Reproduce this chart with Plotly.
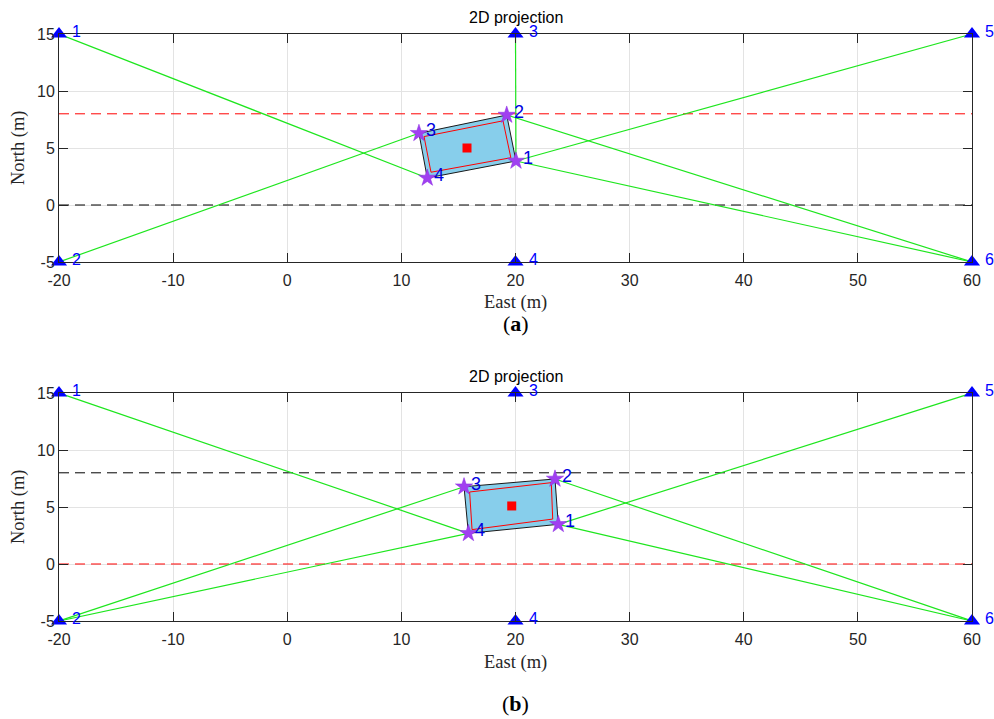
import plotly.graph_objects as go
import math

# ---------------- data ----------------
anchor_x = [-20, -20, 20, 20, 60, 60]
anchor_y = [15, -5, 15, -5, 15, -5]
anchor_labels = ["1", "2", "3", "4", "5", "6"]

vertex_labels = ["1", "2", "3", "4"]

# panel (a)
a_corner_x = [20.04, 19.23, 11.54, 12.27]
a_corner_y = [3.86, 7.89, 6.29, 2.37]
a_center_x = [15.75]
a_center_y = [5.0]
a_link_anchor = [1, 2, 3, 5, 6, 6]
a_link_vertex = [4, 3, 1, 1, 1, 2]
a_lane_y = [8, 0]
a_lane_color = ["red", "black"]

# panel (b)
b_corner_x = [23.75, 23.46, 15.49, 15.87]
b_corner_y = [3.48, 7.46, 6.78, 2.69]
b_center_x = [19.67]
b_center_y = [5.09]
b_link_anchor = [1, 2, 2, 5, 6, 6]
b_link_vertex = [4, 3, 4, 1, 1, 2]
b_lane_y = [8, 0]
b_lane_color = ["black", "red"]

x_ticks = [-20, -10, 0, 10, 20, 30, 40, 50, 60]
x_tick_labels = ["-20", "-10", "0", "10", "20", "30", "40", "50", "60"]
y_ticks = [-5, 0, 5, 10, 15]
y_tick_labels = ["-5", "0", "5", "10", "15"]
x_range = [-20, 60]
y_range = [-5, 15]

inset = 0.4  # inner outline inset (m)

W, H = 994, 719
left_px, right_px = 59, 972
panels_px = [(34, 262), (393, 621)]

GREEN = "#1ee61e"
SANS = "Liberation Sans, Arial, sans-serif"
SERIF = "Liberation Serif, Times New Roman, serif"

fig = go.Figure()


def inner_rect(cx, cy, inset):
    mx = sum(cx) / 4
    my = sum(cy) / 4
    ux, uy = cx[0] - cx[3], cy[0] - cy[3]
    vx, vy = cx[1] - cx[0], cy[1] - cy[0]
    lu = math.hypot(ux, uy)
    lv = math.hypot(vx, vy)
    ux, uy = ux / lu, uy / lu
    vx, vy = vx / lv, vy / lv
    xs, ys = [], []
    for px, py in zip(cx, cy):
        du = (px - mx) * ux + (py - my) * uy
        dv = (px - mx) * vx + (py - my) * vy
        du2 = du - math.copysign(inset, du)
        dv2 = dv - math.copysign(inset, dv)
        xs.append(mx + du2 * ux + dv2 * vx)
        ys.append(my + du2 * uy + dv2 * vy)
    return xs, ys


def add_panel(idx, cx, cy, ccx, ccy, link_a, link_v, lane_y, lane_col):
    xa = "x" if idx == 0 else "x2"
    ya = "y" if idx == 0 else "y2"
    for ly, lc in zip(lane_y, lane_col):
        fig.add_trace(go.Scatter(x=x_range, y=[ly, ly], mode="lines",
                                 line=dict(color=lc, width=1, dash="10px,6px"),
                                 xaxis=xa, yaxis=ya, showlegend=False,
                                 hoverinfo="skip"))
    for a, v in zip(link_a, link_v):
        fig.add_trace(go.Scatter(x=[anchor_x[a - 1], cx[v - 1]],
                                 y=[anchor_y[a - 1], cy[v - 1]],
                                 mode="lines", line=dict(color=GREEN, width=1.2),
                                 xaxis=xa, yaxis=ya, showlegend=False,
                                 hoverinfo="skip"))
    fig.add_trace(go.Scatter(x=cx + [cx[0]], y=cy + [cy[0]], mode="lines",
                             fill="toself", fillcolor="#87CEEB",
                             line=dict(color="#1a1a1a", width=1),
                             xaxis=xa, yaxis=ya, showlegend=False,
                             hoverinfo="skip"))
    ix, iy = inner_rect(cx, cy, inset)
    fig.add_trace(go.Scatter(x=ix + [ix[0]], y=iy + [iy[0]], mode="lines",
                             line=dict(color="red", width=1),
                             xaxis=xa, yaxis=ya, showlegend=False,
                             hoverinfo="skip"))
    fig.add_trace(go.Scatter(x=ccx, y=ccy, mode="markers",
                             marker=dict(symbol="square", size=9, color="red"),
                             xaxis=xa, yaxis=ya, showlegend=False,
                             hoverinfo="skip"))
    fig.add_trace(go.Scatter(x=cx, y=cy, mode="markers",
                             marker=dict(symbol="star", size=13, color="#A040F0",
                                         line=dict(color="#8a2be2", width=0.5)),
                             cliponaxis=False,
                             xaxis=xa, yaxis=ya, showlegend=False,
                             hoverinfo="skip"))
    for vx_, vy_, lab in zip(cx, cy, vertex_labels):
        fig.add_annotation(x=vx_, y=vy_, xref=xa, yref=ya, text=lab,
                           showarrow=False, xanchor="left", yanchor="middle",
                           xshift=6, yshift=3, borderpad=0,
                           font=dict(family=SANS, size=18, color="#0000E0"))
    fig.add_trace(go.Scatter(x=anchor_x, y=anchor_y, mode="markers",
                             marker=dict(symbol="triangle-up", size=14, color="#0000FF"),
                             cliponaxis=False,
                             xaxis=xa, yaxis=ya, showlegend=False,
                             hoverinfo="skip"))
    for ax_, ay_, lab in zip(anchor_x, anchor_y, anchor_labels):
        fig.add_annotation(x=ax_, y=ay_, xref=xa, yref=ya, text=lab,
                           showarrow=False, xanchor="left", yanchor="middle",
                           xshift=12, yshift=3, borderpad=0,
                           font=dict(family=SANS, size=16, color="#0000FF"))


add_panel(0, a_corner_x, a_corner_y, a_center_x, a_center_y,
          a_link_anchor, a_link_vertex, a_lane_y, a_lane_color)
add_panel(1, b_corner_x, b_corner_y, b_center_x, b_center_y,
          b_link_anchor, b_link_vertex, b_lane_y, b_lane_color)

xdom = [left_px / W, right_px / W]
axis_common = dict(showline=True, linecolor="#262626", linewidth=1,
                   mirror="ticks", ticks="inside", ticklen=9,
                   tickcolor="#262626", showgrid=True, gridcolor="#e3e3e3",
                   gridwidth=1, zeroline=False, automargin=False,
                   tickfont=dict(family=SANS, size=16, color="#262626"))

layout = dict(width=W, height=H,
              margin=dict(l=0, r=0, t=0, b=0, pad=0, autoexpand=False),
              plot_bgcolor="white", paper_bgcolor="white", showlegend=False)

for i, (top, bot) in enumerate(panels_px):
    ydom = [1 - bot / H, 1 - top / H]
    xk = "xaxis" if i == 0 else "xaxis2"
    yk = "yaxis" if i == 0 else "yaxis2"
    ya = "y" if i == 0 else "y2"
    xa = "x" if i == 0 else "x2"
    layout[xk] = dict(domain=xdom, range=x_range, tickvals=x_ticks,
                      ticktext=x_tick_labels, anchor=ya, ticklabelstandoff=4,
                      **axis_common)
    layout[yk] = dict(domain=ydom, range=y_range, tickvals=y_ticks,
                      ticktext=y_tick_labels, anchor=xa, **axis_common)

fig.update_layout(**layout)

cx_px = (left_px + right_px) / 2
for i, (top, bot) in enumerate(panels_px):
    fig.add_annotation(x=cx_px / W, y=1 - (top - 16) / H, xref="paper", yref="paper",
                       text="2D projection", showarrow=False,
                       font=dict(family=SANS, size=16, color="black"),
                       xanchor="center", yanchor="middle")
    fig.add_annotation(x=cx_px / W, y=1 - (bot + 41) / H, xref="paper", yref="paper",
                       text="East (m)", showarrow=False,
                       font=dict(family=SERIF, size=18.5, color="#262626"),
                       xanchor="center", yanchor="middle")
    fig.add_annotation(x=18 / W, y=1 - ((top + bot) / 2) / H, xref="paper",
                       yref="paper", text="North (m)", textangle=-90,
                       showarrow=False, borderpad=0,
                       font=dict(family=SERIF, size=18.5, color="#262626"),
                       xanchor="center", yanchor="middle")
    fig.add_annotation(x=cx_px / W, y=1 - (bot + 61 if i == 0 else bot + 82) / H,
                       xref="paper", yref="paper",
                       text="(<b>a</b>)" if i == 0 else "(<b>b</b>)",
                       showarrow=False,
                       font=dict(family=SERIF, size=22, color="black"),
                       xanchor="center", yanchor="middle")

fig.write_html(
    "out.html",
    config={"displayModeBar": False},
    post_script="document.body.style.margin='0';document.body.style.overflow='hidden';",
)
